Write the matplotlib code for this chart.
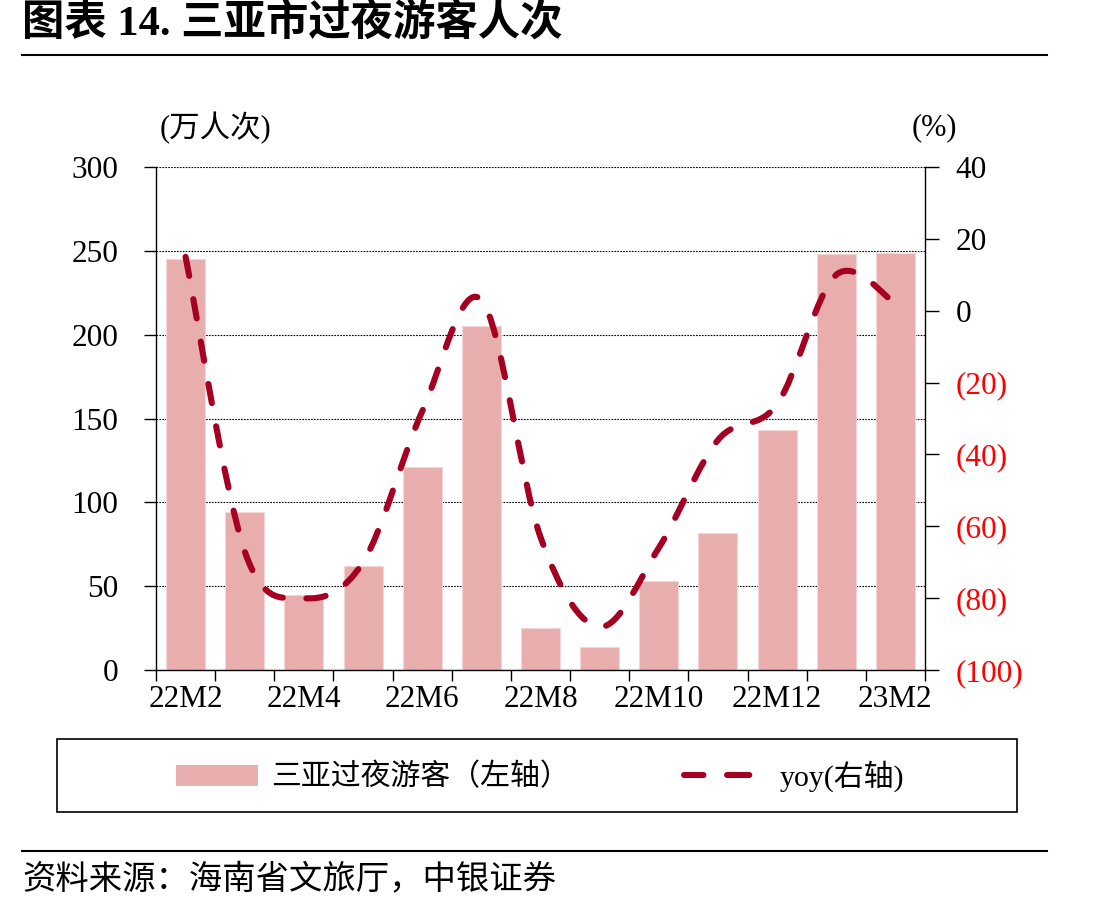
import numpy as np
import matplotlib
matplotlib.use('Agg')
import matplotlib.pyplot as plt
from matplotlib.path import Path
from matplotlib.patches import PathPatch, Rectangle
from matplotlib.lines import Line2D
from matplotlib.ticker import FixedLocator, NullFormatter, FuncFormatter

plt.rcParams['font.family'] = ['Liberation Serif', 'Noto Sans CJK SC']
plt.rcParams['lines.scale_dashes'] = False

# ---------------- data ----------------
categories = ['22M2', '22M3', '22M4', '22M5', '22M6', '22M7', '22M8',
              '22M9', '22M10', '22M11', '22M12', '23M1', '23M2']
visitors = [245, 94, 45, 62, 121, 205, 25, 14, 53, 82, 143, 248, 249]
yoy = [15, -67, -80, -70, -28, 3, -63, -88, -66, -36, -26, 10, 2]
left_ticks = [0, 50, 100, 150, 200, 250, 300]
right_ticks = [-100, -80, -60, -40, -20, 0, 20, 40]
xtick_labels = categories[::2]

bar_color = '#E8AEAE'
line_color = '#A50021'

W, H = 1101, 909
fig = plt.figure(figsize=(W / 100, H / 100), dpi=100)


def fx(px):
    return px / W


def fy(py):
    return 1 - py / H


ax = fig.add_axes([fx(156), fy(670), fx(925) - fx(156), fy(167) - fy(670)])
x = np.arange(len(categories))
ax.bar(x, visitors, width=0.66, color=bar_color, edgecolor='#F4D6D6',
       linewidth=0.8, zorder=2)
ax.set_xlim(-0.5, len(categories) - 0.5)
ax.set_ylim(0, 300)
ax.set_yticks(left_ticks)
ax.set_axisbelow(True)
ax.yaxis.grid(True, color='black', linestyle=(0, (1.2, 0.9)), linewidth=0.8)

ax.xaxis.set_major_locator(FixedLocator(np.arange(len(categories) + 1) - 0.5))
ax.xaxis.set_major_formatter(NullFormatter())
ax.set_xticks(x[::2], minor=True)
ax.set_xticklabels(xtick_labels, minor=True)
ax.tick_params(axis='x', which='major', length=8, width=1, direction='out')
ax.tick_params(axis='x', which='minor', length=0, pad=11, labelsize=22.5)
ax.tick_params(axis='y', length=9, width=1, direction='out', pad=18, labelsize=22.5)
for s in ['top', 'right']:
    ax.spines[s].set_visible(False)
for s in ['left', 'bottom']:
    ax.spines[s].set_linewidth(1.0)

ax2 = ax.twinx()
ax2.set_ylim(-100, 40)
ax2.set_yticks(right_ticks)
ax2.yaxis.set_major_formatter(FuncFormatter(
    lambda v, p: f'({abs(int(round(v)))})' if v < 0 else f'{int(round(v))}'))
ax2.tick_params(axis='y', length=10, width=1, direction='out', pad=12, labelsize=22.5)
for t, v in zip(ax2.get_yticklabels(), right_ticks):
    t.set_color('#FF0000' if v < 0 else 'black')
for s in ['top', 'left', 'bottom']:
    ax2.spines[s].set_visible(False)
ax2.spines['right'].set_linewidth(1.0)

# smoothed dashed yoy line (bezier segments through the data points)
pts = [np.array([xi, yi], dtype=float) for xi, yi in zip(x, yoy)]
n = len(pts)
verts = [pts[0]]
codes = [Path.MOVETO]
for i in range(n - 1):
    p0 = pts[i - 1] if i > 0 else pts[i]
    p1 = pts[i]
    p2 = pts[i + 1]
    p3 = pts[i + 2] if i + 2 < n else pts[i + 1]
    c1 = p1 + (p2 - p0) / 6.0
    c2 = p2 - (p3 - p1) / 6.0
    verts += [c1, c2, p2]
    codes += [Path.CURVE4] * 3
line_path = Path(np.array(verts), codes)
ax2.add_patch(PathPatch(line_path, facecolor='none', edgecolor=line_color,
                        linewidth=4.4, linestyle=(0, (14, 17)),
                        capstyle='round', zorder=3))

# axis unit labels
fig.text(fx(160), fy(128), '(万人次)', fontsize=22, ha='left', va='center')
fig.text(fx(912), fy(128), '(%)', fontsize=22, ha='left', va='center')

# legend
h_bar = Rectangle((0, 0), 1, 1, facecolor=bar_color, edgecolor='none')
h_line = Line2D([], [], color=line_color, linewidth=4.4,
                linestyle=(2, (16, 17)), dash_capstyle='round')
fig.legend([h_bar, h_line], ['三亚过夜游客（左轴）', 'yoy(右轴)'],
           loc='center', bbox_to_anchor=(fx(540), fy(776)), ncol=2,
           frameon=False, fontsize=21.5, handlelength=2.75, handleheight=0.7,
           handletextpad=0.45, columnspacing=3.8)
fig.add_artist(Rectangle((fx(57), fy(812)), fx(1017) - fx(57), fy(739) - fy(812),
                         transform=fig.transFigure, fill=False,
                         edgecolor='black', linewidth=1.2))

# title and source
fig.text(fx(22), fy(24), '图表 14. 三亚市过夜游客人次', fontsize=30.5,
         fontweight='bold', ha='left', va='center')
fig.add_artist(Line2D([fx(22), fx(1047)], [fy(55), fy(55)],
                      transform=fig.transFigure, color='black', linewidth=1.5))
fig.add_artist(Line2D([fx(22), fx(1047)], [fy(851), fy(851)],
                      transform=fig.transFigure, color='black', linewidth=1.5))
fig.text(fx(22), fy(879), '资料来源：海南省文旅厅，中银证券', fontsize=24,
         style='italic', ha='left', va='center')

fig.savefig('out.png', dpi=100)
